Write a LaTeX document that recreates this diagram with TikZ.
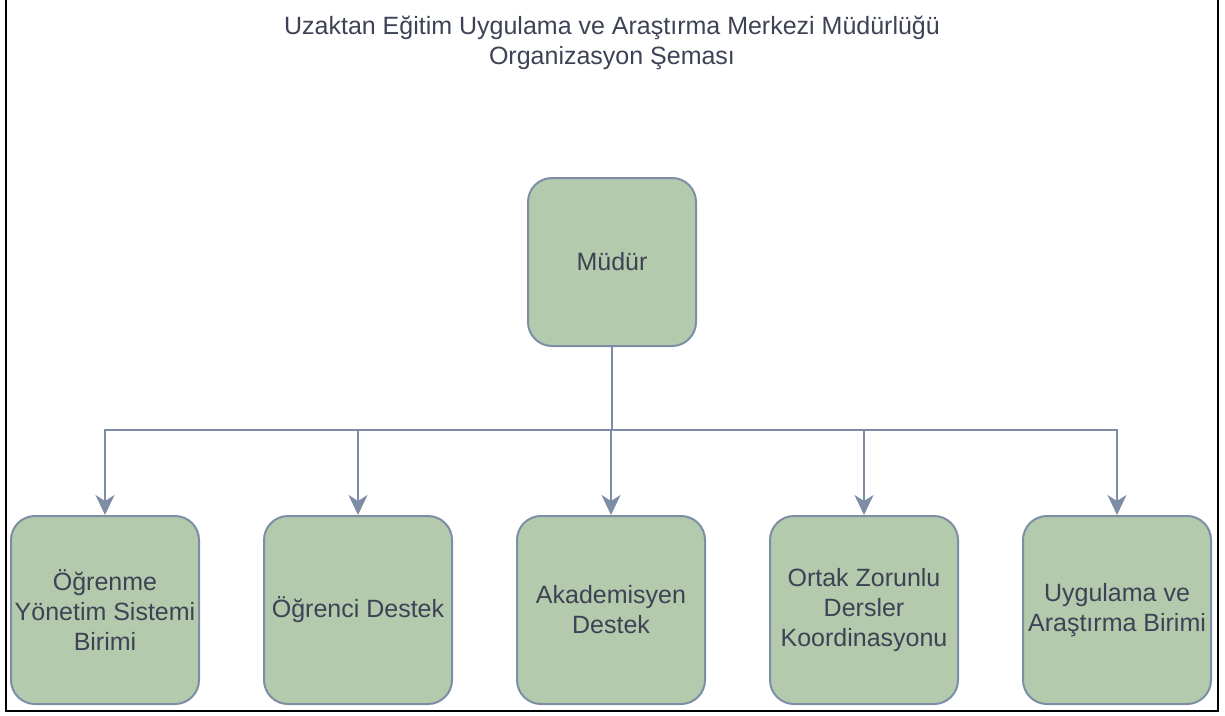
\documentclass[tikz,border=0pt]{standalone}
\usepackage{fontspec}
\setmainfont{Liberation Sans}
\usetikzlibrary{positioning,arrows.meta}
\definecolor{boxfill}{HTML}{B3CAAC}
\definecolor{boxline}{HTML}{7D8DA6}
\definecolor{txt}{HTML}{3D4255}
\begin{document}
\begin{tikzpicture}[x=1pt, y=-1pt, node distance=63pt,
    unit/.style={draw=boxline, fill=boxfill, line width=2pt, rounded corners=24pt,
        minimum width=188pt, minimum height=188pt, align=center, text=txt,
        font=\fontsize{25}{30}\selectfont},
    link/.style={draw=boxline, line width=2pt},
    feed/.style={link, -{Stealth[length=20pt, width=19pt, inset=6pt]}}]
    \useasboundingbox (0,0) rectangle (1225,715);
    \draw[line width=2.5pt] (6,-2) -- (6,711) -- (1218,711) -- (1218,-2);
    \node[text=txt, align=center, font=\fontsize{25}{30}\selectfont] (title) at (612,43)
        {Uzaktan Eğitim Uygulama ve Araştırma Merkezi Müdürlüğü\\Organizasyon Şeması};
    \node[unit, minimum width=168pt, minimum height=168pt] (mudur) at (612,262) {Müdür};
    \node[unit] (oys) at (105,610) {Öğrenme\\Yönetim Sistemi\\Birimi};
    \node[unit, right=of oys] (ogr) {Öğrenci Destek};
    \node[unit, right=of ogr] (aka) {Akademisyen\\Destek};
    \node[unit, right=of aka] (ozd) {Ortak Zorunlu\\Dersler\\Koordinasyonu};
    \node[unit, right=of ozd] (uab) {Uygulama ve\\Araştırma Birimi};
    \draw[link] (mudur.south) -- ++(0,83) coordinate (bus);
    \foreach \n in {oys, ogr, aka, ozd, uab}
        \draw[feed] (bus) -| (\n.north);
\end{tikzpicture}
\end{document}
